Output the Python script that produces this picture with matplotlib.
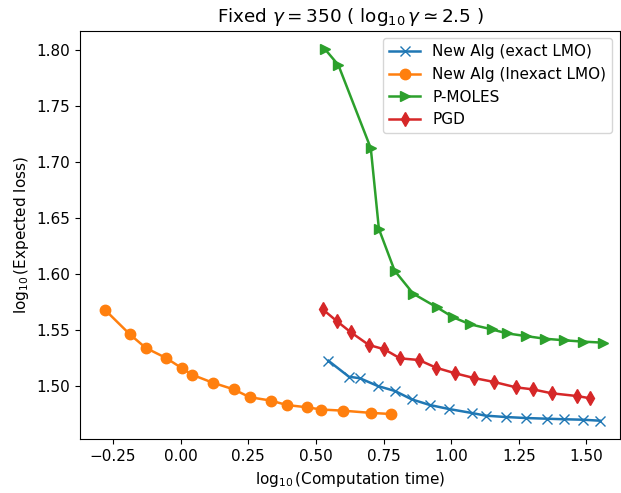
import numpy as np
import matplotlib
matplotlib.use("Agg")
import matplotlib.pyplot as plt

plt.rcParams['font.size'] = 11

# log10 time / log10 loss
exact_x = [0.546, 0.622, 0.663, 0.729, 0.793, 0.854, 0.922, 0.991, 1.077, 1.128,
           1.203, 1.277, 1.355, 1.419, 1.487, 1.551]
exact_y = [1.5226, 1.5083, 1.5069, 1.5000, 1.4955, 1.4881, 1.4830, 1.4795, 1.4759, 1.4735,
           1.4723, 1.4714, 1.4708, 1.4703, 1.4699, 1.4690]

inexact_x = [-0.280, -0.1875, -0.129, -0.054, 0.0037, 0.043, 0.118, 0.196, 0.255, 0.333,
             0.393, 0.467, 0.520, 0.599, 0.703, 0.777]
inexact_y = [1.568, 1.546, 1.534, 1.525, 1.516, 1.510, 1.503, 1.497, 1.490, 1.487,
             1.483, 1.481, 1.479, 1.478, 1.476, 1.475]

pmoles_x = [0.534, 0.583, 0.703, 0.733, 0.791, 0.860, 0.947, 1.008, 1.070, 1.150,
            1.206, 1.276, 1.347, 1.419, 1.489, 1.561]
pmoles_y = [1.8006, 1.7866, 1.7122, 1.6402, 1.6030, 1.5824, 1.5703, 1.5613, 1.5551, 1.5506,
            1.5470, 1.5446, 1.5422, 1.5408, 1.5396, 1.5387]

pgd_x = [0.525, 0.577, 0.629, 0.696, 0.753, 0.811, 0.881, 0.945, 1.0155, 1.085,
         1.159, 1.240, 1.302, 1.372, 1.467, 1.515]
pgd_y = [1.5685, 1.5580, 1.5480, 1.5366, 1.5328, 1.5247, 1.5232, 1.5163, 1.5113, 1.5071,
         1.5036, 1.4988, 1.4970, 1.4935, 1.4910, 1.4890]

fig = plt.figure(figsize=(6.21, 4.93), dpi=100)
ax = fig.add_axes([0.1288, 0.1089, 0.8696, 0.8288])

lw = 1.8
ms = 7.5
ax.plot(exact_x, exact_y, marker='x', color='tab:blue', lw=lw, ms=ms, label='New Alg (exact LMO)')
ax.plot(inexact_x, inexact_y, marker='o', color='tab:orange', lw=lw, ms=ms, label='New Alg (Inexact LMO)')
ax.plot(pmoles_x, pmoles_y, marker='>', color='tab:green', lw=lw, ms=ms, label='P-MOLES')
ax.plot(pgd_x, pgd_y, marker='d', color='tab:red', lw=lw, ms=ms, label='PGD')

ax.set_xlim(-0.3724, 1.6246)
ax.set_ylim(1.4524, 1.8172)
ax.set_xticks([-0.25, 0.0, 0.25, 0.5, 0.75, 1.0, 1.25, 1.5])
ax.set_yticks([1.50, 1.55, 1.60, 1.65, 1.70, 1.75, 1.80])

ax.set_title(r'Fixed $\gamma = 350$ ( $\log_{10}\gamma \simeq 2.5$ )')
ax.set_xlabel(r'$\log_{10}$(Computation time)')
ax.set_ylabel(r'$\log_{10}$(Expected loss)')
ax.legend(loc='upper right')

fig.savefig('out.png', dpi=100)
